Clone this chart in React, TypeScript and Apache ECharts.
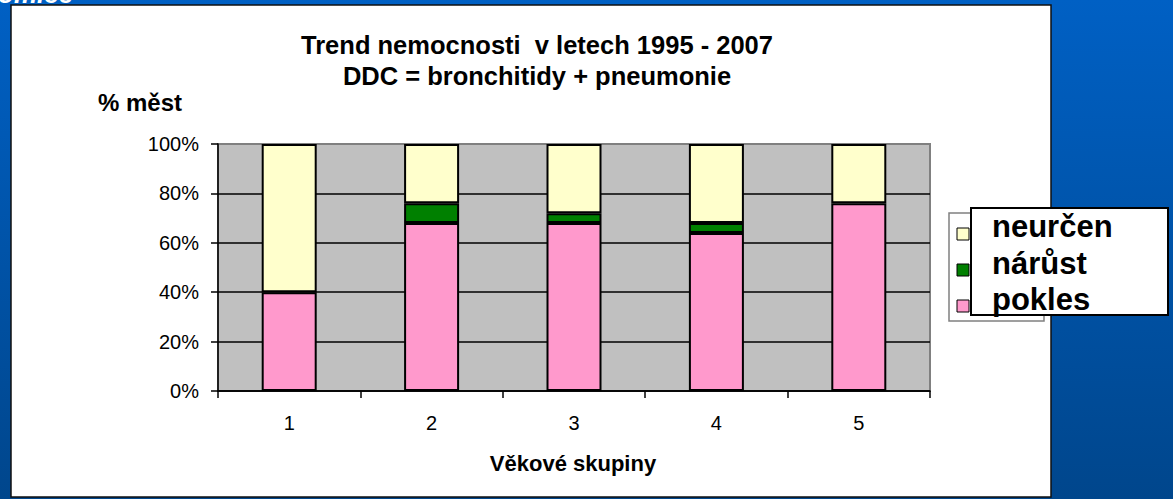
import React, { useEffect, useRef } from "react";
import * as echarts from "echarts";

const categories = ["1", "2", "3", "4", "5"];
const pokles = [40, 68, 68, 64, 76];
const narust = [0, 8, 4, 4, 0];
const neurcen = [60, 24, 28, 32, 24];
const seriesNames = ["pokles", "nárůst", "neurčen"];
const seriesColors = ["#FF99CC", "#008000", "#FFFFCC"];
const legendOrder = ["neurčen", "nárůst", "pokles"];
const titleLines = ["Trend nemocnosti  v letech 1995 - 2007", "DDC = bronchitidy + pneumonie"];
const yAxisTitle = "% měst";
const xAxisTitle = "Věkové skupiny";

const FONT = '"Liberation Sans", Arial, sans-serif';

export default function App() {
  const ref = useRef<HTMLDivElement>(null);
  useEffect(() => {
    const chart = echarts.init(ref.current!, null, { renderer: "svg" });
    const values = [pokles, narust, neurcen];
    const legendRows = [226, 263, 299];
    const markerRows = [234, 270, 306];
    const legendGraphics: any[] = [
      {
        type: "rect",
        z: 50,
        shape: { x: 949, y: 213, width: 95, height: 108 },
        style: { fill: "#fff", stroke: "#808080", lineWidth: 1.5 },
      },
    ];
    legendOrder.forEach((name, i) => {
      const color = seriesColors[seriesNames.indexOf(name)];
      legendGraphics.push({
        type: "rect",
        z: 51,
        shape: { x: 957, y: markerRows[i] - 6, width: 12, height: 12 },
        style: { fill: color, stroke: "#000", lineWidth: 1 },
      });
    });
    legendGraphics.push({
      type: "rect",
      z: 60,
      shape: { x: 971, y: 208, width: 197, height: 107 },
      style: { fill: "#fff", stroke: "#000", lineWidth: 2 },
    });
    legendOrder.forEach((name, i) => {
      legendGraphics.push({
        type: "text",
        z: 61,
        x: 992,
        y: legendRows[i],
        style: {
          text: name,
          fill: "#000",
          font: `bold 31px ${FONT}`,
          textAlign: "left",
          textVerticalAlign: "middle",
        },
      });
    });

    chart.setOption({
      animation: false,
      backgroundColor: {
        type: "linear",
        x: 0,
        y: 0,
        x2: 0,
        y2: 1,
        colorStops: [
          { offset: 0, color: "#0060C4" },
          { offset: 1, color: "#00468C" },
        ],
      },
      grid: {
        left: 218,
        top: 144,
        width: 712,
        height: 247,
        show: true,
        backgroundColor: "#C0C0C0",
        borderColor: "#808080",
        borderWidth: 2,
        containLabel: false,
      },
      xAxis: {
        type: "category",
        data: categories,
        axisLine: { show: true, lineStyle: { color: "#000", width: 1.5 } },
        axisTick: { show: true, length: 7, lineStyle: { color: "#000", width: 1.5 } },
        axisLabel: { color: "#000", fontSize: 20, fontFamily: FONT, margin: 22 },
        splitLine: { show: false },
      },
      yAxis: {
        type: "value",
        min: 0,
        max: 100,
        interval: 20,
        axisLine: { show: true, lineStyle: { color: "#000", width: 1.5 } },
        axisTick: { show: true, length: 7, lineStyle: { color: "#000", width: 1.5 } },
        axisLabel: {
          color: "#000",
          fontSize: 20,
          fontFamily: FONT,
          margin: 19,
          formatter: (v: number) => `${v}%`,
        },
        splitLine: {
          show: true,
          lineStyle: { color: ["#000", "#000", "#000", "#000", "#000", "#808080"], width: 1.5 },
        },
      },
      series: seriesNames.map((name, i) => ({
        name,
        type: "bar",
        stack: "total",
        barWidth: 55,
        data: values[i].map((v) => (v === 0 ? "-" : v)),
        itemStyle: { color: seriesColors[i], borderColor: "#000", borderWidth: 2 },
        emphasis: { disabled: true },
      })),
      graphic: [
        {
          type: "rect",
          z: -1,
          silent: true,
          shape: { x: 11, y: 5, width: 1040, height: 492 },
          style: { fill: "#fff", stroke: "#111", lineWidth: 1.5 },
        },
        {
          type: "text",
          x: -2,
          y: -19,
          style: {
            text: "omice",
            fill: "#fff",
            font: `italic bold 26px ${FONT}`,
            textAlign: "left",
            textVerticalAlign: "top",
            shadowColor: "#000",
            shadowOffsetX: 1,
            shadowOffsetY: 1,
            shadowBlur: 1,
          },
        },
        ...titleLines.map((t, i) => ({
          type: "text",
          x: 537,
          y: 45 + i * 31,
          style: {
            text: t,
            fill: "#000",
            font: `bold 25.5px ${FONT}`,
            textAlign: "center",
            textVerticalAlign: "middle",
          },
        })),
        {
          type: "text",
          x: 140,
          y: 102,
          style: {
            text: yAxisTitle,
            fill: "#000",
            font: `bold 24px ${FONT}`,
            textAlign: "center",
            textVerticalAlign: "middle",
          },
        },
        {
          type: "text",
          x: 573,
          y: 463,
          style: {
            text: xAxisTitle,
            fill: "#000",
            font: `bold 22px ${FONT}`,
            textAlign: "center",
            textVerticalAlign: "middle",
          },
        },
        ...legendGraphics,
      ],
    });
    return () => chart.dispose();
  }, []);
  return (
    <div
      ref={ref}
      style={{ position: "fixed", left: 0, top: 0, width: 1173, height: 499 }}
    />
  );
}
